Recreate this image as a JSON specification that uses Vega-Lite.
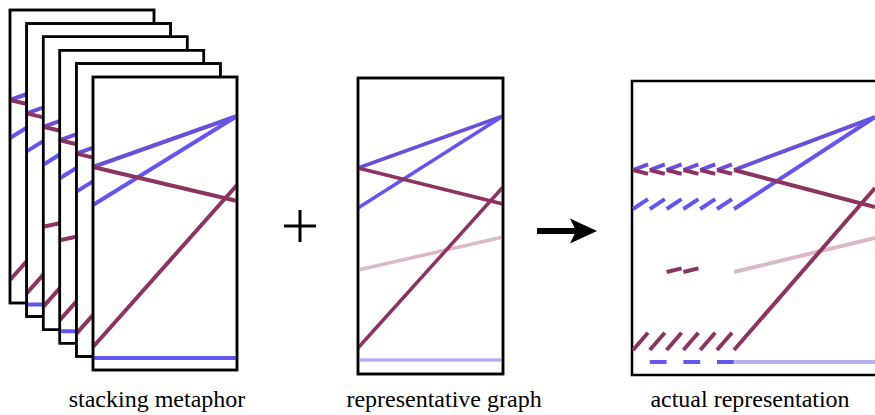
{
  "$schema": "https://vega.github.io/schema/vega-lite/v6.json",
  "width": 875,
  "height": 415,
  "padding": 0,
  "autosize": {"type": "none"},
  "background": "white",
  "config": {"view": {"stroke": null}},
  "datasets": {
    "stackFrames": [
      {"f": 0, "x": 10, "y": 10, "x2": 154, "y2": 303},
      {"f": 1, "x": 26.6, "y": 23.4, "x2": 170.6, "y2": 316.4},
      {"f": 2, "x": 43.2, "y": 36.8, "x2": 187.2, "y2": 329.8},
      {"f": 3, "x": 59.8, "y": 50.2, "x2": 203.8, "y2": 343.2},
      {"f": 4, "x": 76.4, "y": 63.6, "x2": 220.4, "y2": 356.6},
      {"f": 5, "x": 93, "y": 77, "x2": 237, "y2": 370}
    ],
    "stackLines": [
      {"f": 0, "series": "A", "x": 10, "y": 100, "x2": 154, "y2": 49},
      {"f": 0, "series": "B", "x": 10, "y": 138, "x2": 154, "y2": 49},
      {"f": 0, "series": "M", "x": 10, "y": 100, "x2": 154, "y2": 134},
      {"f": 0, "series": "N", "x": 10, "y": 280, "x2": 154, "y2": 118},
      {"f": 1, "series": "A", "x": 26.6, "y": 113.4, "x2": 170.6, "y2": 62.4},
      {"f": 1, "series": "B", "x": 26.6, "y": 151.4, "x2": 170.6, "y2": 62.4},
      {"f": 1, "series": "M", "x": 26.6, "y": 113.4, "x2": 170.6, "y2": 147.4},
      {"f": 1, "series": "N", "x": 26.6, "y": 293.4, "x2": 170.6, "y2": 131.4},
      {"f": 1, "series": "B", "x": 26.6, "y": 304.4, "x2": 170.6, "y2": 304.4},
      {"f": 2, "series": "A", "x": 43.2, "y": 126.8, "x2": 187.2, "y2": 75.8},
      {"f": 2, "series": "B", "x": 43.2, "y": 164.8, "x2": 187.2, "y2": 75.8},
      {"f": 2, "series": "M", "x": 43.2, "y": 126.8, "x2": 187.2, "y2": 160.8},
      {"f": 2, "series": "N", "x": 43.2, "y": 306.8, "x2": 187.2, "y2": 144.8},
      {"f": 2, "series": "M", "x": 43.2, "y": 226.8, "x2": 187.2, "y2": 195.8},
      {"f": 3, "series": "A", "x": 59.8, "y": 140.2, "x2": 203.8, "y2": 89.2},
      {"f": 3, "series": "B", "x": 59.8, "y": 178.2, "x2": 203.8, "y2": 89.2},
      {"f": 3, "series": "M", "x": 59.8, "y": 140.2, "x2": 203.8, "y2": 174.2},
      {"f": 3, "series": "N", "x": 59.8, "y": 320.2, "x2": 203.8, "y2": 158.2},
      {"f": 3, "series": "B", "x": 59.8, "y": 331.2, "x2": 203.8, "y2": 331.2},
      {"f": 3, "series": "M", "x": 59.8, "y": 240.2, "x2": 203.8, "y2": 209.2},
      {"f": 4, "series": "A", "x": 76.4, "y": 153.6, "x2": 220.4, "y2": 102.6},
      {"f": 4, "series": "B", "x": 76.4, "y": 191.6, "x2": 220.4, "y2": 102.6},
      {"f": 4, "series": "M", "x": 76.4, "y": 153.6, "x2": 220.4, "y2": 187.6},
      {"f": 4, "series": "N", "x": 76.4, "y": 333.6, "x2": 220.4, "y2": 171.6},
      {"f": 5, "series": "A", "x": 93, "y": 167, "x2": 237, "y2": 116},
      {"f": 5, "series": "B", "x": 93, "y": 205, "x2": 237, "y2": 116},
      {"f": 5, "series": "M", "x": 93, "y": 167, "x2": 237, "y2": 201},
      {"f": 5, "series": "N", "x": 93, "y": 347, "x2": 237, "y2": 185},
      {"f": 5, "series": "B", "x": 93, "y": 358, "x2": 237, "y2": 358}
    ],
    "repFrame": [{"x": 358, "y": 78, "x2": 503, "y2": 374}],
    "repLines": [
      {"series": "fadeB", "x": 358, "y": 360, "x2": 503, "y2": 360},
      {"series": "fadeM", "x": 358, "y": 270, "x2": 503, "y2": 237},
      {"series": "A", "x": 358, "y": 168, "x2": 503, "y2": 116},
      {"series": "B", "x": 358, "y": 208, "x2": 503, "y2": 116},
      {"series": "M", "x": 358, "y": 168, "x2": 503, "y2": 204},
      {"series": "N", "x": 358, "y": 348, "x2": 503, "y2": 187}
    ],
    "actFrame": [{"x": 632, "y": 81, "x2": 900, "y2": 375}],
    "actLines": [
      {"series": "fadeB", "x": 734, "y": 362, "x2": 875, "y2": 362},
      {"series": "fadeM", "x": 734, "y": 272, "x2": 875, "y2": 238},
      {"series": "A", "x": 734, "y": 170, "x2": 875, "y2": 117},
      {"series": "B", "x": 734, "y": 209, "x2": 875, "y2": 117},
      {"series": "M", "x": 734, "y": 170, "x2": 875, "y2": 207},
      {"series": "N", "x": 734, "y": 350, "x2": 875, "y2": 188},
      {"series": "A", "x": 633, "y": 170, "x2": 648, "y2": 164.4},
      {"series": "A", "x": 649.8, "y": 170, "x2": 664.8, "y2": 164.4},
      {"series": "A", "x": 666.6, "y": 170, "x2": 681.6, "y2": 164.4},
      {"series": "A", "x": 683.4, "y": 170, "x2": 698.4, "y2": 164.4},
      {"series": "A", "x": 700.2, "y": 170, "x2": 715.2, "y2": 164.4},
      {"series": "A", "x": 717, "y": 170, "x2": 732, "y2": 164.4},
      {"series": "M", "x": 633, "y": 170, "x2": 648, "y2": 173.9},
      {"series": "M", "x": 649.8, "y": 170, "x2": 664.8, "y2": 173.9},
      {"series": "M", "x": 666.6, "y": 170, "x2": 681.6, "y2": 173.9},
      {"series": "M", "x": 683.4, "y": 170, "x2": 698.4, "y2": 173.9},
      {"series": "M", "x": 700.2, "y": 170, "x2": 715.2, "y2": 173.9},
      {"series": "M", "x": 717, "y": 170, "x2": 732, "y2": 173.9},
      {"series": "B", "x": 633, "y": 209, "x2": 648, "y2": 199.2},
      {"series": "B", "x": 649.8, "y": 209, "x2": 664.8, "y2": 199.2},
      {"series": "B", "x": 666.6, "y": 209, "x2": 681.6, "y2": 199.2},
      {"series": "B", "x": 683.4, "y": 209, "x2": 698.4, "y2": 199.2},
      {"series": "B", "x": 700.2, "y": 209, "x2": 715.2, "y2": 199.2},
      {"series": "B", "x": 717, "y": 209, "x2": 732, "y2": 199.2},
      {"series": "N", "x": 633, "y": 350, "x2": 648, "y2": 332.8},
      {"series": "N", "x": 649.8, "y": 350, "x2": 664.8, "y2": 332.8},
      {"series": "N", "x": 666.6, "y": 350, "x2": 681.6, "y2": 332.8},
      {"series": "N", "x": 683.4, "y": 350, "x2": 698.4, "y2": 332.8},
      {"series": "N", "x": 700.2, "y": 350, "x2": 715.2, "y2": 332.8},
      {"series": "N", "x": 717, "y": 350, "x2": 732, "y2": 332.8},
      {"series": "M", "x": 666.6, "y": 272, "x2": 681.6, "y2": 268.4},
      {"series": "M", "x": 683.4, "y": 272, "x2": 698.4, "y2": 268.4},
      {"series": "B", "x": 649.8, "y": 362, "x2": 666.6, "y2": 362},
      {"series": "B", "x": 683.4, "y": 362, "x2": 700.2, "y2": 362},
      {"series": "B", "x": 717, "y": 362, "x2": 733.8, "y2": 362}
    ],
    "plus": [
      {"x": 284, "y": 226, "x2": 316, "y2": 226},
      {"x": 300, "y": 210, "x2": 300, "y2": 242}
    ],
    "shaft": [{"x": 537, "y": 231, "x2": 576, "y2": 231}],
    "head": [{"x": 583.5, "y": 231}],
    "labels": [
      {"label": "stacking metaphor", "x": 157, "y": 407},
      {"label": "representative graph", "x": 444, "y": 407},
      {"label": "actual representation", "x": 750, "y": 407}
    ]
  },
  "encoding": {
    "x": {"field": "x", "type": "quantitative", "scale": {"domain": [0, 875], "nice": false, "zero": false}, "axis": null},
    "y": {"field": "y", "type": "quantitative", "scale": {"domain": [0, 415], "range": [0, 415], "nice": false, "zero": false}, "axis": null}
  },
  "layer": [
    {"data": {"name": "stackFrames"}, "transform": [{"filter": "datum.f == 0"}], "mark": {"type": "rect", "fill": "white", "stroke": "black", "strokeWidth": 2.5}, "encoding": {"x2": {"field": "x2"}, "y2": {"field": "y2"}}},
    {"data": {"name": "stackLines"}, "transform": [{"filter": "datum.f == 0"}], "mark": {"type": "rule", "strokeWidth": 4}, "encoding": {"x2": {"field": "x2"}, "y2": {"field": "y2"}, "color": {"field": "series", "type": "nominal", "scale": {"domain": ["A", "B", "M", "N", "fadeB", "fadeM"], "range": ["#6a50d8", "#6256ee", "#8b3461", "#8b3461", "#b8b0f2", "#dcb8c8"]}, "legend": null}}},
    {"data": {"name": "stackFrames"}, "transform": [{"filter": "datum.f == 0"}], "mark": {"type": "rect", "fillOpacity": 0, "stroke": "black", "strokeWidth": 2.5}, "encoding": {"x2": {"field": "x2"}, "y2": {"field": "y2"}}},

    {"data": {"name": "stackFrames"}, "transform": [{"filter": "datum.f == 1"}], "mark": {"type": "rect", "fill": "white", "stroke": "black", "strokeWidth": 2.5}, "encoding": {"x2": {"field": "x2"}, "y2": {"field": "y2"}}},
    {"data": {"name": "stackLines"}, "transform": [{"filter": "datum.f == 1"}], "mark": {"type": "rule", "strokeWidth": 4}, "encoding": {"x2": {"field": "x2"}, "y2": {"field": "y2"}, "color": {"field": "series", "type": "nominal", "legend": null}}},
    {"data": {"name": "stackFrames"}, "transform": [{"filter": "datum.f == 1"}], "mark": {"type": "rect", "fillOpacity": 0, "stroke": "black", "strokeWidth": 2.5}, "encoding": {"x2": {"field": "x2"}, "y2": {"field": "y2"}}},

    {"data": {"name": "stackFrames"}, "transform": [{"filter": "datum.f == 2"}], "mark": {"type": "rect", "fill": "white", "stroke": "black", "strokeWidth": 2.5}, "encoding": {"x2": {"field": "x2"}, "y2": {"field": "y2"}}},
    {"data": {"name": "stackLines"}, "transform": [{"filter": "datum.f == 2"}], "mark": {"type": "rule", "strokeWidth": 4}, "encoding": {"x2": {"field": "x2"}, "y2": {"field": "y2"}, "color": {"field": "series", "type": "nominal", "legend": null}}},
    {"data": {"name": "stackFrames"}, "transform": [{"filter": "datum.f == 2"}], "mark": {"type": "rect", "fillOpacity": 0, "stroke": "black", "strokeWidth": 2.5}, "encoding": {"x2": {"field": "x2"}, "y2": {"field": "y2"}}},

    {"data": {"name": "stackFrames"}, "transform": [{"filter": "datum.f == 3"}], "mark": {"type": "rect", "fill": "white", "stroke": "black", "strokeWidth": 2.5}, "encoding": {"x2": {"field": "x2"}, "y2": {"field": "y2"}}},
    {"data": {"name": "stackLines"}, "transform": [{"filter": "datum.f == 3"}], "mark": {"type": "rule", "strokeWidth": 4}, "encoding": {"x2": {"field": "x2"}, "y2": {"field": "y2"}, "color": {"field": "series", "type": "nominal", "legend": null}}},
    {"data": {"name": "stackFrames"}, "transform": [{"filter": "datum.f == 3"}], "mark": {"type": "rect", "fillOpacity": 0, "stroke": "black", "strokeWidth": 2.5}, "encoding": {"x2": {"field": "x2"}, "y2": {"field": "y2"}}},

    {"data": {"name": "stackFrames"}, "transform": [{"filter": "datum.f == 4"}], "mark": {"type": "rect", "fill": "white", "stroke": "black", "strokeWidth": 2.5}, "encoding": {"x2": {"field": "x2"}, "y2": {"field": "y2"}}},
    {"data": {"name": "stackLines"}, "transform": [{"filter": "datum.f == 4"}], "mark": {"type": "rule", "strokeWidth": 4}, "encoding": {"x2": {"field": "x2"}, "y2": {"field": "y2"}, "color": {"field": "series", "type": "nominal", "legend": null}}},
    {"data": {"name": "stackFrames"}, "transform": [{"filter": "datum.f == 4"}], "mark": {"type": "rect", "fillOpacity": 0, "stroke": "black", "strokeWidth": 2.5}, "encoding": {"x2": {"field": "x2"}, "y2": {"field": "y2"}}},

    {"data": {"name": "stackFrames"}, "transform": [{"filter": "datum.f == 5"}], "mark": {"type": "rect", "fill": "white", "stroke": "black", "strokeWidth": 2.5}, "encoding": {"x2": {"field": "x2"}, "y2": {"field": "y2"}}},
    {"data": {"name": "stackLines"}, "transform": [{"filter": "datum.f == 5"}], "mark": {"type": "rule", "strokeWidth": 4}, "encoding": {"x2": {"field": "x2"}, "y2": {"field": "y2"}, "color": {"field": "series", "type": "nominal", "legend": null}}},
    {"data": {"name": "stackFrames"}, "transform": [{"filter": "datum.f == 5"}], "mark": {"type": "rect", "fillOpacity": 0, "stroke": "black", "strokeWidth": 2.5}, "encoding": {"x2": {"field": "x2"}, "y2": {"field": "y2"}}},

    {"data": {"name": "repFrame"}, "mark": {"type": "rect", "fill": "white", "stroke": "black", "strokeWidth": 2.5}, "encoding": {"x2": {"field": "x2"}, "y2": {"field": "y2"}}},
    {"data": {"name": "repLines"}, "mark": {"type": "rule", "strokeWidth": 3.5}, "encoding": {"x2": {"field": "x2"}, "y2": {"field": "y2"}, "color": {"field": "series", "type": "nominal", "legend": null}}},
    {"data": {"name": "repFrame"}, "mark": {"type": "rect", "fillOpacity": 0, "stroke": "black", "strokeWidth": 2.5}, "encoding": {"x2": {"field": "x2"}, "y2": {"field": "y2"}}},

    {"data": {"name": "actFrame"}, "mark": {"type": "rect", "fill": "white", "stroke": "black", "strokeWidth": 2.5}, "encoding": {"x2": {"field": "x2"}, "y2": {"field": "y2"}}},
    {"data": {"name": "actLines"}, "mark": {"type": "rule", "strokeWidth": 4}, "encoding": {"x2": {"field": "x2"}, "y2": {"field": "y2"}, "color": {"field": "series", "type": "nominal", "legend": null}}},

    {"data": {"name": "plus"}, "mark": {"type": "rule", "color": "black", "strokeWidth": 3}, "encoding": {"x2": {"field": "x2"}, "y2": {"field": "y2"}}},
    {"data": {"name": "shaft"}, "mark": {"type": "rule", "color": "black", "strokeWidth": 6}, "encoding": {"x2": {"field": "x2"}, "y2": {"field": "y2"}}},
    {"data": {"name": "head"}, "mark": {"type": "point", "filled": true, "color": "black", "opacity": 1, "strokeWidth": 0, "size": 729, "shape": "M -1 -0.93 L 1 0 L -1 0.93 L -0.55 0 Z"}},
    {"data": {"name": "labels"}, "mark": {"type": "text", "font": "Liberation Serif", "fontSize": 24, "align": "center", "baseline": "alphabetic", "color": "black"}, "encoding": {"text": {"field": "label"}}}
  ]
}
